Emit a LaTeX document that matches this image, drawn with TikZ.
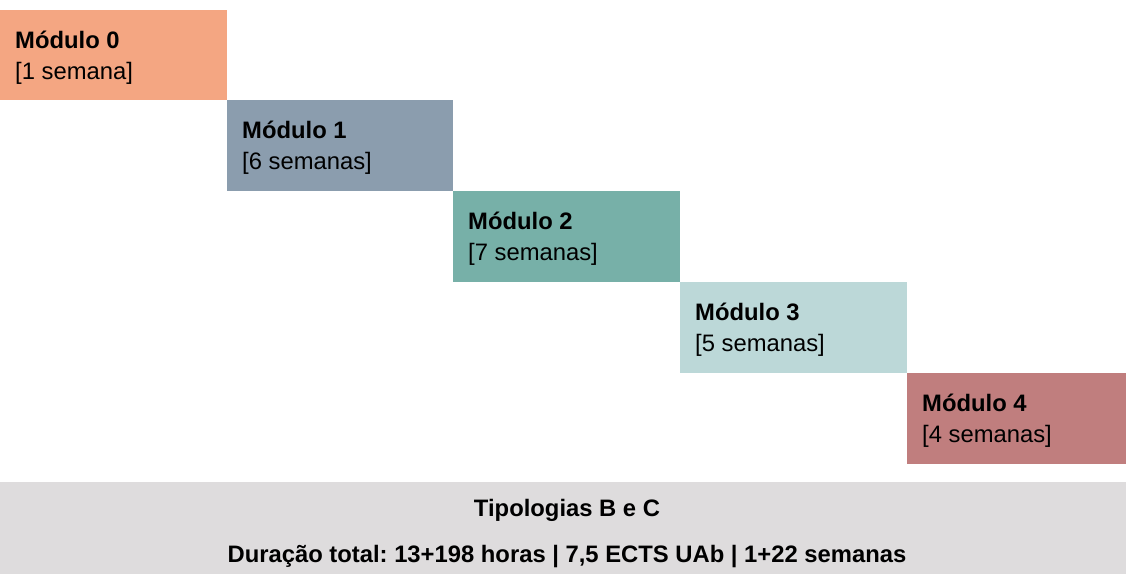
\documentclass[tikz,border=0pt]{standalone}
\usepackage{fontspec}
\setmainfont{Liberation Sans}
\usetikzlibrary{positioning}
\frenchspacing
\definecolor{modzero}{RGB}{244,166,130}
\definecolor{modone}{RGB}{139,157,174}
\definecolor{modtwo}{RGB}{119,176,168}
\definecolor{modthree}{RGB}{188,216,216}
\definecolor{modfour}{RGB}{192,126,126}
\definecolor{footgray}{RGB}{222,220,221}
\tikzset{mod box/.style={rectangle,minimum width=227pt,minimum height=91pt,inner sep=0pt,outer sep=0pt},
mod title/.style={anchor=base west,inner sep=0pt,font=\bfseries\fontsize{23.8}{28}\selectfont},
mod weeks/.style={anchor=base west,inner sep=0pt,font=\fontsize{23.8}{28}\selectfont},
foot text/.style={anchor=base,inner sep=0pt,font=\bfseries\fontsize{23.8}{28}\selectfont} }

\begin{document}
\begin{tikzpicture}[x=1pt,y=1pt]
\useasboundingbox (0,0) rectangle (1126,-574);

  % staircase of modules
  \node[mod box,fill=modzero,minimum height=90pt,anchor=north west] (m0) at (0,-10) {};
  \node[mod box,fill=modone,minimum width=226pt] (m1) [below right=0pt and 0pt of m0] {};
  \node[mod box,fill=modtwo] (m2) [below right=0pt and 0pt of m1] {};
  \node[mod box,fill=modthree] (m3) [below right=0pt and 0pt of m2] {};
  \node[mod box,fill=modfour,minimum width=219pt] (m4) [below right=0pt and 0pt of m3] {};

  \node[mod title] (t0) at ([shift={(15,-38)}]m0.north west) {Módulo 0};
  \node[mod weeks] (w0) at ([shift={(15,-69)}]m0.north west) {[1 semana]};
  \node[mod title] (t1) at ([shift={(15,-38)}]m1.north west) {Módulo 1};
  \node[mod weeks] (w1) at ([shift={(15,-69)}]m1.north west) {[6 semanas]};
  \node[mod title] (t2) at ([shift={(15,-38)}]m2.north west) {Módulo 2};
  \node[mod weeks] (w2) at ([shift={(15,-69)}]m2.north west) {[7 semanas]};
  \node[mod title] (t3) at ([shift={(15,-38)}]m3.north west) {Módulo 3};
  \node[mod weeks] (w3) at ([shift={(15,-69)}]m3.north west) {[5 semanas]};
  \node[mod title] (t4) at ([shift={(15,-38)}]m4.north west) {Módulo 4};
  \node[mod weeks] (w4) at ([shift={(15,-69)}]m4.north west) {[4 semanas]};

  % footer
  \node[rectangle,fill=footgray,minimum width=1126pt,minimum height=92pt,inner sep=0pt,anchor=north west] (foot) at (0,-482) {};
  \node[foot text] (typ) at (567,-516) {Tipologias B e C};
  \node[foot text] (dur) at (567,-562) {Duração total: 13+198 horas | 7,5 ECTS UAb | 1+22 semanas};
\end{tikzpicture}
\end{document}
